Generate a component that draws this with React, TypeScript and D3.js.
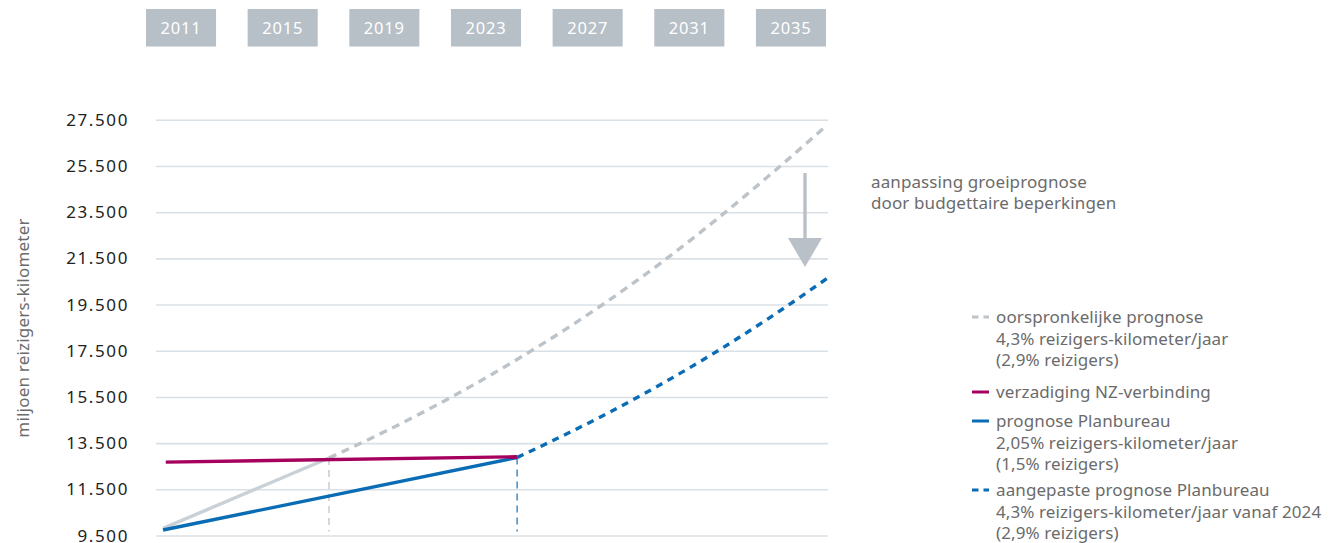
import React from "react";
import * as d3 from "d3";

// ---- data ----
const boxYears = ["2011", "2015", "2019", "2023", "2027", "2031", "2035"];
const yTicks = [9500, 11500, 13500, 15500, 17500, 19500, 21500, 23500, 25500, 27500];

// oorspronkelijke prognose (solid part, then dashed forecast)
const originalSolidYears = [2011, 2017];
const originalSolidValues = [9830, 12880];
const originalDashYears = [2017, 2019, 2021, 2023, 2025, 2027, 2029, 2031, 2033, 2035];
const originalDashValues = [12880, 14010, 15240, 16580, 18030, 19610, 21330, 23200, 25200, 27290];

// verzadiging NZ-verbinding
const saturationYears = [2011.1, 2023.8];
const saturationValues = [12700, 12930];

// prognose Planbureau
const planYears = [2011, 2023.8];
const planValues = [9760, 12900];

// aangepaste prognose Planbureau
const adjustedYears = [2023.8, 2025, 2027, 2029, 2031, 2033, 2035];
const adjustedValues = [12900, 13580, 14770, 16070, 17480, 19010, 20650];

// markers (vertical dashed lines)
const markerYears = [2017, 2023.8];
const markerTop = [12880, 12900];
const markerBottom = 9700;

const legendItems = [
  { key: "orig", lines: ["oorspronkelijke prognose", "4,3% reizigers-kilometer/jaar", "(2,9% reizigers)"] },
  { key: "sat", lines: ["verzadiging NZ-verbinding"] },
  { key: "plan", lines: ["prognose Planbureau", "2,05% reizigers-kilometer/jaar", "(1,5% reizigers)"] },
  { key: "adj", lines: ["aangepaste prognose Planbureau", "4,3% reizigers-kilometer/jaar vanaf 2024", "(2,9% reizigers)"] },
];

const annotationLines = ["aanpassing groeiprognose", "door budgettaire beperkingen"];
const yTitle = "miljoen reizigers-kilometer";

const FONT = "'Noto Sans', 'Open Sans', sans-serif";
const C = {
  grid: "#d9e0e6",
  box: "#b7bfc7",
  graySolid: "#c9d0d6",
  grayDash: "#bcc3c9",
  magenta: "#a6005e",
  blue: "#0a6cb4",
  blueMarker: "#4f93c9",
  grayMarker: "#c8cfd5",
  text: "#6b6b6b",
  tick: "#222222",
  arrow: "#b9c0c7",
};

export default function App() {
  const W = 1335;
  const H = 543;
  const x = d3.scaleLinear().domain([2011, 2035]).range([163, 827]);
  const y = d3.scaleLinear().domain([9500, 27500]).range([536, 120.3]);
  const band = d3.scaleBand<string>().domain(boxYears).range([146, 826]).paddingInner(0.311).paddingOuter(0);

  const straight = d3.line<[number, number]>().x((d) => x(d[0])).y((d) => y(d[1]));
  const curved = d3
    .line<[number, number]>()
    .x((d) => x(d[0]))
    .y((d) => y(d[1]))
    .curve(d3.curveMonotoneX);

  const zip = (a: number[], b: number[]) => a.map((v, i) => [v, b[i]] as [number, number]);

  const legendX = 996;
  const legendSymX0 = 972;
  const legendSymX1 = 989;
  const legendStarts = [323, 398, 427, 496];
  const lineGap = 21.5;
  const textSize = 17;
  const textSpacing = 0.1;

  return (
    <svg
      width={W}
      height={H}
      style={{ position: "absolute", left: 0, top: 0, display: "block", background: "#fff" }}
      fontFamily={FONT}
    >
      {/* year boxes */}
      {boxYears.map((yr) => (
        <g key={yr}>
          <rect x={band(yr)} y={9} width={band.bandwidth()} height={37.5} fill={C.box} />
          <text
            x={(band(yr) as number) + band.bandwidth() / 2}
            y={33.5}
            textAnchor="middle"
            fill="#fff"
            fontSize={16.5}
            letterSpacing={0.8}
          >
            {yr}
          </text>
        </g>
      ))}

      {/* gridlines */}
      {yTicks.map((t) => (
        <line key={t} x1={156} x2={828} y1={y(t)} y2={y(t)} stroke={C.grid} strokeWidth={1.6} />
      ))}

      {/* y tick labels */}
      {yTicks.map((t) => (
        <text
          key={"l" + t}
          x={129}
          y={y(t) + 5.5}
          textAnchor="end"
          fontSize={17}
          letterSpacing={1.6}
          fill={C.tick}
        >
          {d3.format(",")(t).replace(",", ".")}
        </text>
      ))}

      {/* y title */}
      <text
        transform={`translate(29,328) rotate(-90)`}
        textAnchor="middle"
        fontSize={17}
        letterSpacing={0.2}
        fill={C.text}
      >
        {yTitle}
      </text>

      {/* vertical marker lines */}
      {markerYears.map((yr, i) => (
        <line
          key={"m" + i}
          x1={x(yr)}
          x2={x(yr)}
          y1={y(markerTop[i])}
          y2={y(markerBottom)}
          stroke={i === 0 ? C.grayMarker : C.blueMarker}
          strokeWidth={1.6}
          strokeDasharray="7 5"
        />
      ))}

      {/* original forecast */}
      <path d={straight(zip(originalSolidYears, originalSolidValues)) || ""} fill="none" stroke={C.graySolid} strokeWidth={3.4} />
      <path
        d={curved(zip(originalDashYears, originalDashValues)) || ""}
        fill="none"
        stroke={C.grayDash}
        strokeWidth={3.4}
        strokeDasharray="8 6"
      />

      {/* planbureau */}
      <path d={straight(zip(planYears, planValues)) || ""} fill="none" stroke={C.blue} strokeWidth={3.4} />

      {/* saturation */}
      <path d={straight(zip(saturationYears, saturationValues)) || ""} fill="none" stroke={C.magenta} strokeWidth={3.4} />

      {/* adjusted */}
      <path
        d={curved(zip(adjustedYears, adjustedValues)) || ""}
        fill="none"
        stroke={C.blue}
        strokeWidth={3.4}
        strokeDasharray="7 6"
      />

      {/* arrow */}
      <line x1={805} x2={805} y1={173} y2={240} stroke={C.arrow} strokeWidth={3.4} />
      <path d="M788,238 L822,238 L805,267 Z" fill={C.arrow} />

      {/* annotation */}
      {annotationLines.map((l, i) => (
        <text key={"a" + i} x={871} y={188 + i * 20.5} fontSize={textSize} letterSpacing={textSpacing} fill={C.text}>
          {l}
        </text>
      ))}

      {/* legend */}
      {legendItems.map((item, i) => {
        const by = legendStarts[i];
        const sy = by - 6;
        let sym: React.ReactNode = null;
        if (item.key === "orig") {
          sym = (
            <line x1={legendSymX0} x2={legendSymX1} y1={sy} y2={sy} stroke={C.grayDash} strokeWidth={3} strokeDasharray="6.5 5" />
          );
        } else if (item.key === "sat") {
          sym = <line x1={legendSymX0} x2={legendSymX1} y1={sy} y2={sy} stroke={C.magenta} strokeWidth={3} />;
        } else if (item.key === "plan") {
          sym = <line x1={legendSymX0} x2={legendSymX1} y1={sy} y2={sy} stroke={C.blue} strokeWidth={3} />;
        } else {
          sym = (
            <line x1={legendSymX0} x2={legendSymX1} y1={sy} y2={sy} stroke={C.blue} strokeWidth={3} strokeDasharray="6.5 5" />
          );
        }
        return (
          <g key={item.key}>
            {sym}
            {item.lines.map((l, j) => (
              <text key={j} x={legendX} y={by + j * lineGap} fontSize={textSize} letterSpacing={textSpacing} fill={C.text}>
                {l}
              </text>
            ))}
          </g>
        );
      })}
    </svg>
  );
}
